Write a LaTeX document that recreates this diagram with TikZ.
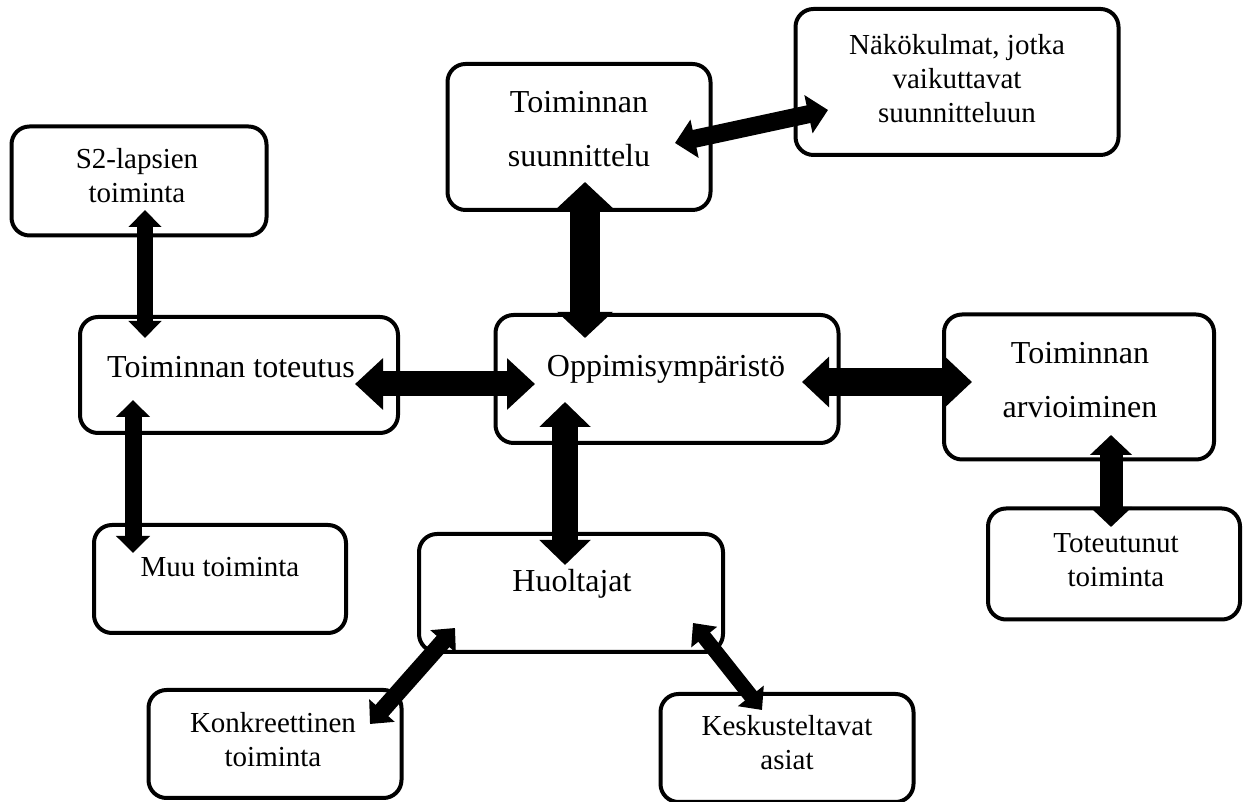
\documentclass[tikz,border=0pt]{standalone}
\usepackage{fontspec}
\setmainfont{Liberation Serif}
\usetikzlibrary{arrows.meta, calc}

\begin{document}
\begin{tikzpicture}[x=1pt, y=1pt,
    box/.style={rectangle, rounded corners=18pt, draw, line width=4pt, fill=white},
    bigtext/.style={align=center, anchor=base, inner sep=0pt, font=\fontsize{32}{54}\selectfont},
    smalltext/.style={align=center, anchor=base, inner sep=0pt, font=\fontsize{29}{34}\selectfont},
    biarrow/.style n args={3}{line width=#1pt, arrows={Triangle[width=#2pt,length=#3pt]-Triangle[width=#2pt,length=#3pt]}}]
\useasboundingbox (0,0) rectangle (1244,802);

% Boxes
\node[box, minimum width=323pt, minimum height=146pt] (nako) at (957,720) {};
\node[box, minimum width=263pt, minimum height=146pt] (suun) at (579,665) {};
\node[box, minimum width=255pt, minimum height=109pt] (s2) at (139,621) {};
\node[box, minimum width=318pt, minimum height=116pt] (tot) at (239,427) {};
\node[box, minimum width=343pt, minimum height=128pt] (opp) at (667,423) {};
\node[box, minimum width=270pt, minimum height=145pt] (arv) at (1079,415) {};
\node[box, minimum width=252pt, minimum height=108pt] (muu) at (220,223) {};
\node[box, minimum width=304pt, minimum height=118pt] (huol) at (571,209) {};
\node[box, minimum width=252pt, minimum height=111pt] (totn) at (1114,238) {};
\node[box, minimum width=253pt, minimum height=108pt] (konk) at (275,58) {};
\node[box, minimum width=253pt, minimum height=108pt] (kesk) at (787,54) {};

% Texts (base = last line)
\node[smalltext] (nakotext) at ($(nako)+(0,-41)$) {Näkökulmat, jotka\\vaikuttavat\\suunnitteluun};
\node[bigtext] (suuntext) at ($(suun)+(0,-30)$) {Toiminnan\\suunnittelu};
\node[smalltext] (s2text) at ($(s2)+(-2,-22)$) {S2-lapsien\\toiminta};
\node[bigtext] (tottext) at ($(tot)+(-8,-3)$) {Toiminnan toteutus};
\node[bigtext] (opptext) at ($(opp)+(-1,2)$) {Oppimisympäristö};
\node[bigtext] (arvtext) at ($(arv)+(1,-31)$) {Toiminnan\\arvioiminen};
\node[smalltext] (muutext) at ($(muu)+(0,2)$) {Muu toiminta};
\node[bigtext] (huoltext) at ($(huol)+(1,1)$) {Huoltajat};
\node[smalltext] (totntext) at ($(totn)+(2,-23)$) {Toteutunut\\toiminta};
\node[smalltext] (konktext) at ($(konk)+(-2,-23)$) {Konkreettinen\\toiminta};
\node[smalltext] (kesktext) at ($(kesk)+(0,-22)$) {Keskusteltavat\\asiat};

% Arrows
\draw[biarrow={16}{32}{17}] ($(s2)+(6,-29)$) -- ($(tot)+(-94,37)$);
\draw[biarrow={17}{33}{17}] ($(tot)+(-106,-25)$) -- ($(muu)+(-87,26)$);
\draw[biarrow={25}{50}{28}] ($(tot)+(116,-9)$) -- ($(opp)+(-132,-5)$);
\draw[biarrow={30}{54}{26}] ($(suun)+(6,-45)$) -- ($(opp)+(-82,41)$);
\draw[biarrow={18}{38}{20}] ($(suun)+(96,-6)$) -- ($(nako)+(-129,-28)$);
\draw[biarrow={28}{49}{27}] ($(opp)+(135,-3)$) -- ($(arv)+(-107,5)$);
\draw[biarrow={26}{50}{25}] ($(opp)+(-102,-23)$) -- ($(huol)+(-6,28)$);
\draw[biarrow={23}{41}{20}] ($(arv)+(32,-48)$) -- ($(totn)+(-3,37)$);
\draw[biarrow={17}{33}{18}] ($(huol)+(-116,-35)$) -- ($(konk)+(95,20)$);
\draw[biarrow={15}{32}{18}] ($(huol)+(122,-30)$) -- ($(kesk)+(-25,38)$);

\end{tikzpicture}
\end{document}
